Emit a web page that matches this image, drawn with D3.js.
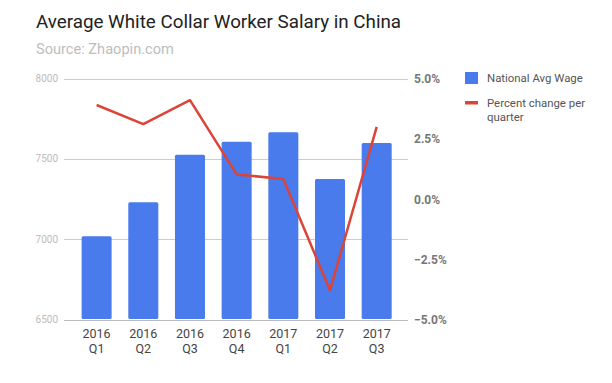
<!DOCTYPE html>
<html><head><meta charset="utf-8">
<script src="https://cdn.jsdelivr.net/npm/d3@7"></script>
<style>body{margin:0;background:#fff;}svg{display:block;font-family:Roboto,"Noto Sans",Arial,sans-serif;}</style>
</head><body>
<svg id="chart" width="612" height="383"></svg>
<script>
const categories = ["2016 Q1","2016 Q2","2016 Q3","2016 Q4","2017 Q1","2017 Q2","2017 Q3"];
const wages = [7018, 7230, 7525, 7606, 7665, 7374, 7598];
const pctChange = [3.90, 3.11, 4.10, 1.02, 0.83, -3.79, 2.99];
const leftTicks = [6500, 7000, 7500, 8000];
const rightTicks = [-5, -2.5, 0, 2.5, 5];
const seriesNames = ["National Avg Wage", "Percent change per quarter"];

const svg = d3.select("#chart");
const blue = "#4a7bec", red = "#db4437";
const gridL = 64, gridR = 408, plotTop = 78.5, plotBottom = 319.5;

const x = d3.scaleBand().domain(categories).range([73.3, 400]).paddingInner(0.357).paddingOuter(0.178);
const yL = d3.scaleLinear().domain([6500, 8000]).range([plotBottom, plotTop]);
const yR = d3.scaleLinear().domain([-5, 5]).range([plotBottom, plotTop]);

svg.append("text").attr("x", 36).attr("y", 27.5).attr("font-size", 18.8).attr("fill", "#222")
  .text("Average White Collar Worker Salary in China");
svg.append("text").attr("x", 36).attr("y", 54).attr("font-size", 14.6).attr("fill", "#bdbdbd")
  .text("Source: Zhaopin.com");

// gridlines + left axis
const gl = svg.append("g");
gl.selectAll("line").data(leftTicks).join("line")
  .attr("x1", gridL).attr("x2", gridR)
  .attr("y1", d => Math.round(yL(d)) + 0.5).attr("y2", d => Math.round(yL(d)) + 0.5)
  .attr("stroke", d => d === 6500 ? "#bbb" : "#ccc").attr("stroke-width", 1);
gl.selectAll("text").data(leftTicks).join("text")
  .attr("x", 58).attr("y", d => yL(d) + 3.5).attr("text-anchor", "end")
  .attr("font-size", 10).attr("fill", "#bbb").text(d => d);

// right axis labels
svg.append("g").selectAll("text").data(rightTicks).join("text")
  .attr("x", 414).attr("y", d => yR(d) + 4.5)
  .attr("font-size", 12).attr("font-weight", "bold").attr("fill", "#777")
  .text(d => d3.format(".1f")(d) + "%");

// bars
svg.append("g").selectAll("rect").data(categories).join("rect")
  .attr("x", d => x(d)).attr("width", x.bandwidth())
  .attr("y", (d, i) => yL(wages[i])).attr("height", (d, i) => plotBottom - 0.5 - yL(wages[i]))
  .attr("rx", 1.5).attr("fill", blue);

// x labels
const xl = svg.append("g");
categories.forEach(c => {
  const parts = c.split(" ");
  const t = xl.append("text").attr("x", x(c) + x.bandwidth() / 2).attr("text-anchor", "middle")
    .attr("font-size", 12.5).attr("fill", "#444");
  t.append("tspan").attr("x", x(c) + x.bandwidth() / 2).attr("y", 338).text(parts[0]);
  t.append("tspan").attr("x", x(c) + x.bandwidth() / 2).attr("y", 353).text(parts[1]);
});

// line
const line = d3.line().x((d, i) => x(categories[i]) + x.bandwidth() / 2).y(d => yR(d));
svg.append("path").datum(pctChange).attr("d", line).attr("fill", "none")
  .attr("stroke", red).attr("stroke-width", 2.5).attr("stroke-linejoin", "round");

// legend
const lg = svg.append("g");
lg.append("rect").attr("x", 465).attr("y", 72).attr("width", 13).attr("height", 12).attr("fill", blue);
lg.append("text").attr("x", 487).attr("y", 82).attr("font-size", 11.4).attr("fill", "#555").text(seriesNames[0]);
lg.append("rect").attr("x", 465).attr("y", 101).attr("width", 13).attr("height", 3.5).attr("fill", red);
const lt = lg.append("text").attr("font-size", 11.4).attr("fill", "#555");
lt.append("tspan").attr("x", 487).attr("y", 107).text("Percent change per");
lt.append("tspan").attr("x", 487).attr("y", 121).text("quarter");
</script>
</body></html>
